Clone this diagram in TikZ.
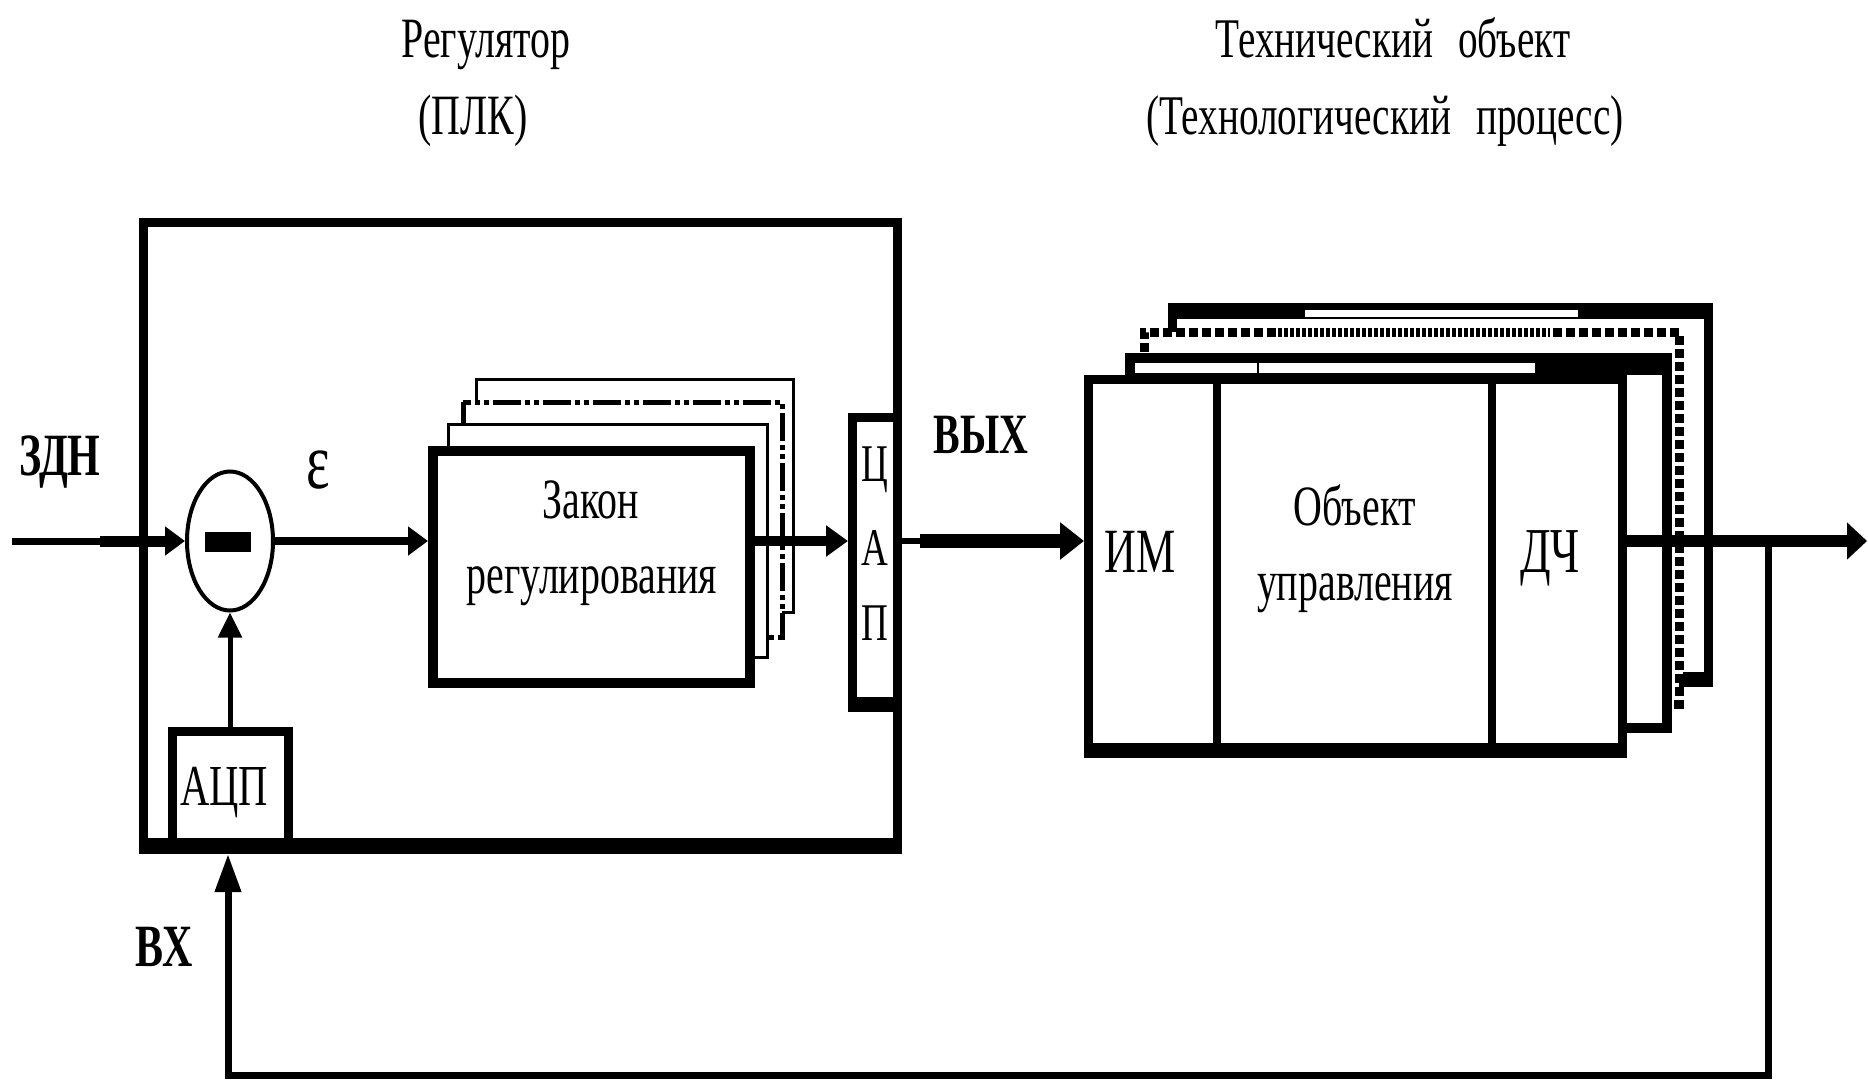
\documentclass[tikz,border=0pt]{standalone}
\usepackage{fontspec}
\setmainfont{Liberation Serif}[FakeStretch=0.7]
\usetikzlibrary{arrows.meta,shapes.geometric}
\newcommand\fs[1]{\fontsize{#1pt}{#1pt}\selectfont}
\tikzset{
  lbl/.style={inner sep=0pt, outer sep=0pt, anchor=base},
  boxnode/.style={draw, rectangle, inner sep=0pt, outer sep=auto},
  tipA/.style={-{Triangle[length=20pt,width=28pt]}},
}
\begin{document}
\begin{tikzpicture}[x=1pt,y=-1pt]
\useasboundingbox (0,0) rectangle (1868,1081);
\fill[white] (0,0) rectangle (1868,1081);

% ---------- titles
\node[lbl, font=\fs{57}] (t1) at (486,58) {Регулятор};
\node[lbl, font=\fs{57}] (t2) at (473,134) {(ПЛК)};
\node[lbl, font=\fs{56}] (t3) at (1393,58) {Технический\hspace{0.45em}объект};
\node[lbl, font=\fs{56}] (t4) at (1385,134) {(Технологический\hspace{0.45em}процесс)};

% ---------- PLC
\node[boxnode, line width=9pt, minimum width=116pt, minimum height=114.5pt] (adc) at (230,788.75) {};
\node[lbl, font=\fs{58}] (adct) at (224,805) {АЦП};
\node[boxnode, line width=9pt, minimum width=44.5pt, minimum height=289pt] (dac) at (874.75,561.5) {};
\fill (848,697) rectangle (902,712);
\node[lbl, font=\fs{53}] (dac1) at (875,481) {Ц};
\node[lbl, font=\fs{53}] (dac2) at (875,565) {А};
\node[lbl, font=\fs{53}] (dac3) at (875,640) {П};
\draw[line width=9pt] (143,222) rectangle (897,846);
\draw[line width=16pt] (138.5,846) -- (901.5,846);

% comparator
\node[ellipse, draw, line width=4pt, minimum width=86pt, minimum height=139pt, inner sep=0pt] (cmp) at (230,541) {};
\fill (205,532) rectangle (251,552);

% Zakon stack
\draw[line width=3pt, fill=white] (476,379) rectangle (793,612);
\draw[line width=5pt, fill=white, dash pattern=on 28pt off 4pt on 5pt off 4pt on 5pt off 4pt] (463,402) rectangle (782,637);
\draw[line width=3pt, fill=white] (448,424) rectangle (767,657);
\node[boxnode, line width=10pt, fill=white, minimum width=317pt, minimum height=232pt] (zakon) at (591.5,567) {};
\node[lbl, font=\fs{57}] (zk1) at (591,518) {Закон};
\node[lbl, font=\fs{57}] (zk2) at (592,593) {регулирования};

% ---------- Technical object stack
% layer 4
\draw[line width=9pt, fill=white] (1172.5,308) rectangle (1708,682);
\fill (1168,303) rectangle (1713,319);
\fill[white] (1305,310) rectangle (1578,317);
\fill (1683,672) rectangle (1713,687);
% layer 3
\fill[white] (1144,332) rectangle (1679,704);
\draw[line width=9pt, dash pattern=on 9pt off 4pt] (1144,352) -- (1144,332) -- (1679,332) -- (1679,704) -- (1660,704);
\draw[white, line width=10pt] (1272,332) -- (1550,332);
\draw[line width=9pt, dash pattern=on 4pt off 2pt] (1272,332) -- (1550,332);
% layer 2
\draw[line width=10pt, fill=white] (1130,358) rectangle (1667,728);
\fill (1535,353) rectangle (1672,375);
\draw[line width=2pt] (1135,373.5) -- (1535,373.5);
\draw[line width=2pt] (1258,362) -- (1258,375);
% front
\node[boxnode, line width=9pt, fill=white, minimum width=534pt, minimum height=370.5pt] (obj) at (1355.5,564.75) {};
\fill (1084,743) rectangle (1627,758);
\draw[line width=8pt] (1217,379) -- (1217,750);
\draw[line width=8pt] (1492,379) -- (1492,750);
\node[lbl, font=\fs{63}] (im) at (1140,572) {ИМ};
\node[lbl, font=\fs{57}] (ob1) at (1355,525) {Объект};
\node[lbl, font=\fs{57}] (ob2) at (1355,600) {управления};
\node[lbl, font=\fs{64}] (dch) at (1550,572) {ДЧ};

% ---------- signal labels
\node[lbl, font=\fs{60}\bfseries] (zdnl) at (60,475) {ЗДН};
\node[font=\fs{80}, inner sep=0pt] (eps) at (318,470) {ε};
\node[lbl, font=\fs{57}\bfseries] (vyx) at (981,453) {ВЫХ};
\node[lbl, font=\fs{60}\bfseries] (vx) at (164,966) {ВХ};

% ---------- connectors
\coordinate (zdn) at (12,541);
\coordinate (zdnk) at (100,541);
\draw[line width=7pt, tipA] (zdn) -- (cmp.west);
\draw[line width=11pt] (zdnk) -- ([xshift=-18pt]cmp.west);
\draw[line width=8pt, tipA] (cmp.east) -- (zakon.west |- cmp.east);
\draw[line width=10pt, -{Triangle[length=22pt,width=30pt]}] (zakon.east |- cmp.east) -- (dac.west |- cmp.east);
\draw[line width=6pt, -{Triangle[length=24pt,width=36pt]}] (dac.east |- zdn) -- (obj.west |- zdn);
\draw[line width=14pt] ([xshift=18pt]dac.east |- zdn) -- ([xshift=-22pt]obj.west |- zdn);
\coordinate (out) at (1867,541);
\draw[line width=12pt, -{Triangle[length=20pt,width=36pt]}] (obj.east |- zdn) -- (out);
\coordinate (tap) at (1768,541);
\coordinate (bl) at (228,1075);
\coordinate (fb) at (228,854);
\draw[line width=7pt, -{Triangle[length=38pt,width=25pt]}] (tap) |- (bl) -- (fb);
\draw[line width=5pt, -{Triangle[length=25pt,width=23pt]}] (adc.north) -- (cmp.south);
\end{tikzpicture}
\end{document}
